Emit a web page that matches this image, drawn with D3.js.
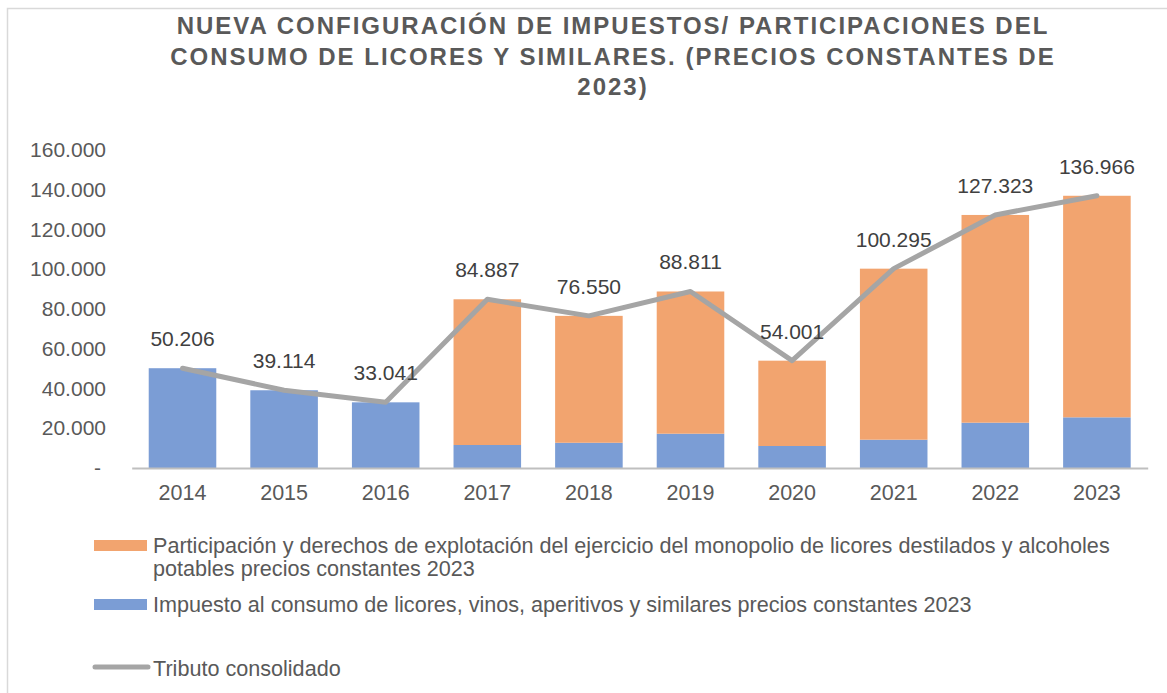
<!DOCTYPE html>
<html>
<head>
<meta charset="utf-8">
<style>
    body { margin: 0; background: #fff; }
    text { font-family: "Liberation Sans", Arial, sans-serif; }
</style>
</head>
<body>
<div id="chart"></div>
<script src="https://d3js.org/d3.v7.min.js"></script>
<script>
    var years = ["2014", "2015", "2016", "2017", "2018", "2019", "2020", "2021", "2022", "2023"];
    // impuesto al consumo (azul)
    var impuesto = [50206, 39114, 33041, 11570, 12700, 17260, 11070, 14240, 22800, 25500];
    // participacion monopolio (naranja)
    var participacion = [0, 0, 0, 73320, 63850, 71550, 42930, 86050, 104520, 111470];
    // tributo consolidado (linea)
    var tributo = [50206, 39114, 33041, 84887, 76550, 88811, 54001, 100295, 127323, 136966];
    var yTicks = [0, 20000, 40000, 60000, 80000, 100000, 120000, 140000, 160000];
    var titleLines = [
        "NUEVA CONFIGURACIÓN DE IMPUESTOS/ PARTICIPACIONES DEL",
        "CONSUMO DE LICORES Y SIMILARES. (PRECIOS CONSTANTES DE",
        "2023)"
    ];
    var legendItems = [
        { lines: ["Participación y derechos de explotación del ejercicio del monopolio de licores destilados y alcoholes", "potables precios constantes 2023"], color: "#F2A46F", type: "bar" },
        { lines: ["Impuesto al consumo de licores, vinos, aperitivos y similares precios constantes 2023"], color: "#7B9DD5", type: "bar" },
        { lines: ["Tributo consolidado"], color: "#A5A5A5", type: "line" }
    ];

    var W = 1167, H = 693;
    var textColor = "#595959";
    var loc = d3.formatLocale({ decimal: ",", thousands: ".", grouping: [3], currency: ["$", ""] });
    var fmt = loc.format(",d");

    var svg = d3.select("#chart").append("svg")
        .attr("width", W)
        .attr("height", H);

    // borde del grafico
    svg.append("path")
        .attr("d", "M7.5," + H + "V8.5H" + W)
        .attr("fill", "none")
        .attr("stroke", "#D9D9D9")
        .attr("stroke-width", 1.5);

    // titulo
    svg.append("g").selectAll("text")
        .data(titleLines)
        .enter().append("text")
        .attr("x", 613)
        .attr("y", (d, i) => 34 + i * 30.5)
        .attr("text-anchor", "middle")
        .attr("font-size", 24)
        .attr("font-weight", "bold")
        .attr("letter-spacing", 2)
        .attr("fill", textColor)
        .text(d => d);

    var x = d3.scaleBand()
        .domain(years)
        .range([131.7, 1147.7])
        .paddingInner(0.335)
        .paddingOuter(0.1675);

    var y = d3.scaleLinear()
        .domain([0, 160000])
        .range([468, 150]);

    // eje y
    var yAxis = d3.axisLeft(y)
        .tickValues(yTicks)
        .tickSize(0)
        .tickPadding(0)
        .tickFormat(d => d === 0 ? "-" : fmt(d));

    var gy = svg.append("g")
        .attr("transform", "translate(106,0)")
        .call(yAxis);
    gy.select(".domain").remove();
    gy.selectAll("text")
        .attr("font-size", 21)
        .attr("fill", textColor)
        .attr("font-family", "Liberation Sans, Arial, sans-serif")
        .attr("dx", d => d === 0 ? -5 : 0);

    // barras apiladas
    var stackData = years.map((yr, i) => ({ year: yr, impuesto: impuesto[i], participacion: participacion[i] }));
    var series = d3.stack().keys(["impuesto", "participacion"])(stackData);
    var colors = { impuesto: "#7B9DD5", participacion: "#F2A46F" };

    svg.append("g").selectAll("g")
        .data(series)
        .enter().append("g")
        .attr("fill", d => colors[d.key])
        .selectAll("rect")
        .data(d => d)
        .enter().append("rect")
        .attr("x", d => x(d.data.year))
        .attr("width", x.bandwidth())
        .attr("y", d => y(d[1]))
        .attr("height", d => y(d[0]) - y(d[1]));

    // eje x
    var xAxis = d3.axisBottom(x).tickSize(0).tickPadding(17);
    var gx = svg.append("g")
        .attr("transform", "translate(0,468)")
        .call(xAxis);
    gx.select(".domain")
        .attr("stroke", "#BFBFBF")
        .attr("stroke-width", 2);
    gx.selectAll("text")
        .attr("font-size", 21.5)
        .attr("fill", textColor)
        .attr("font-family", "Liberation Sans, Arial, sans-serif");

    // linea tributo consolidado
    var line = d3.line()
        .x((d, i) => x(years[i]) + x.bandwidth() / 2)
        .y(d => y(d));

    svg.append("path")
        .datum(tributo)
        .attr("d", line)
        .attr("fill", "none")
        .attr("stroke", "#A5A5A5")
        .attr("stroke-width", 5)
        .attr("stroke-linejoin", "round")
        .attr("stroke-linecap", "round");

    // etiquetas de datos
    svg.append("g").selectAll("text")
        .data(tributo)
        .enter().append("text")
        .attr("x", (d, i) => x(years[i]) + x.bandwidth() / 2)
        .attr("y", d => y(d) - 22)
        .attr("text-anchor", "middle")
        .attr("font-size", 21)
        .attr("fill", "#404040")
        .text(d => fmt(d));

    // leyenda
    var legY = [545, 604, 668];
    var leg = svg.append("g");
    legendItems.forEach((it, k) => {
        if (it.type == "bar") {
            leg.append("rect")
                .attr("x", 94)
                .attr("y", legY[k] - 5)
                .attr("width", 53)
                .attr("height", 11)
                .attr("fill", it.color);
        } else {
            leg.append("line")
                .attr("x1", 95).attr("x2", 148)
                .attr("y1", legY[k] - 1).attr("y2", legY[k] - 1)
                .attr("stroke", it.color)
                .attr("stroke-width", 5)
                .attr("stroke-linecap", "round");
        }
        it.lines.forEach((ln, j) => {
            leg.append("text")
                .attr("x", 153)
                .attr("y", legY[k] + 7.5 + j * 23.5)
                .attr("font-size", 21.6)
                .attr("fill", textColor)
                .text(ln);
        });
    });
</script>
</body>
</html>
